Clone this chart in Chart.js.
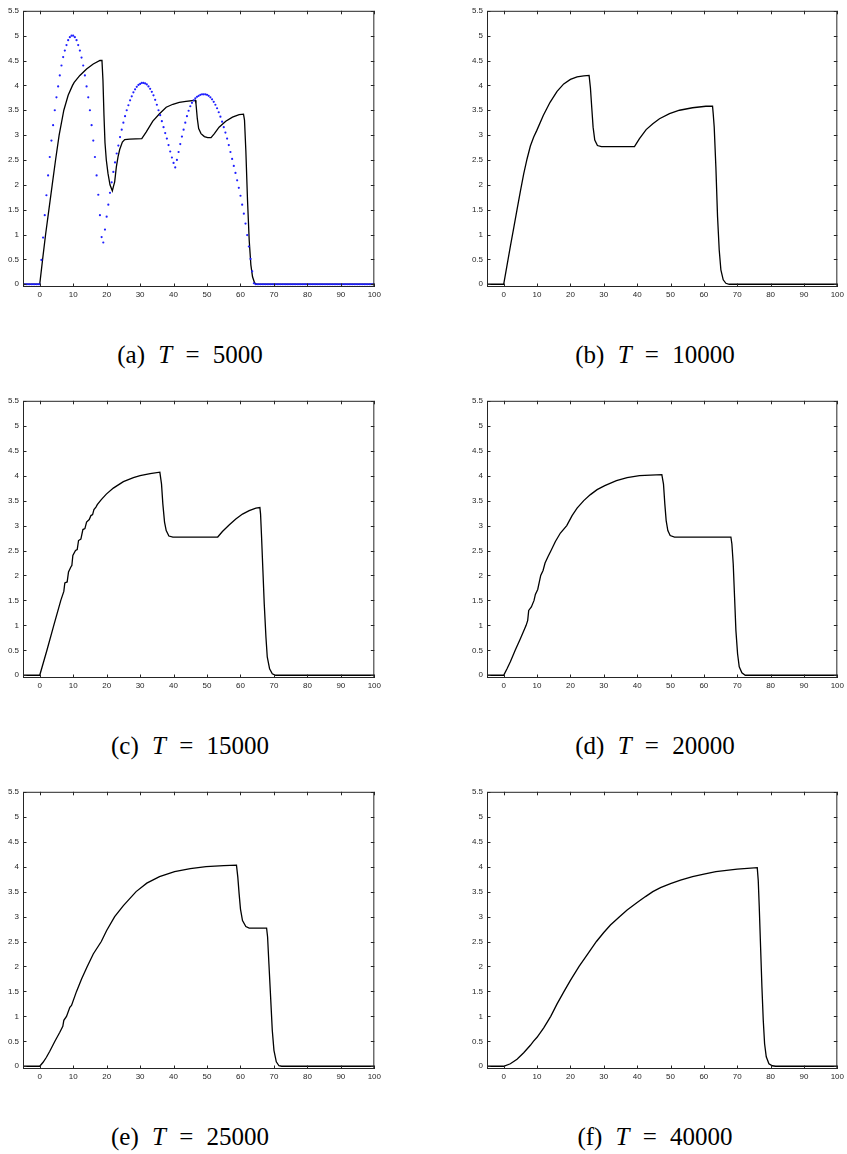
<!DOCTYPE html>
<html>
<head>
<meta charset="utf-8">
<script src="https://cdn.jsdelivr.net/npm/chart.js@4.4.1/dist/chart.umd.min.js"></script>
<style>
  html, body { margin: 0; padding: 0; background: #fff; overflow: hidden; }
  #page { position: relative; width: 847px; height: 1154px; }
  canvas { position: absolute; }
  .cap {
    position: absolute; width: 300px; text-align: center;
    font-family: 'Liberation Serif', serif; font-size: 25px; line-height: 24px;
    color: #000; white-space: pre; word-spacing: 7px;
  }
</style>
</head>
<body>
<div id="page"></div>
<script>
// axis ticks
const xTicks = [0, 10, 20, 30, 40, 50, 60, 70, 80, 90, 100];
const yTicks = [0, 0.5, 1, 1.5, 2, 2.5, 3, 3.5, 4, 4.5, 5, 5.5];

const captions = ['(a)|T|5000', '(b)|T|10000', '(c)|T|15000', '(d)|T|20000', '(e)|T|25000', '(f)|T|40000'];

// (a) T = 5000
const aX = [-5, 0, 0.86, 1.75, 2.74, 3.73, 4.73, 5.8, 7.2, 8.5, 9.8, 10.3, 12, 14, 16, 18, 18.6, 18.9, 19.2, 19.5,
  19.9, 20.4, 21.0, 21.7, 22.0, 22.4, 22.9, 23.4, 23.9, 24.7, 25.4, 26.9, 30.5, 31.8, 33.8, 35.8, 37.8, 39.8, 41.7, 43.7,
  46.5, 46.7, 47.1, 47.5, 48.2, 49.2, 50.2, 51.2, 52.2, 53.6, 55.6, 57.6, 59.6, 60.9, 61.2, 61.6, 62.1, 62.6, 63.1, 63.6,
  64.2, 64.8, 100];
const aY = [0, 0, 0.5, 1.0, 1.5, 2.0, 2.5, 3.0, 3.5, 3.8, 4.0, 4.06, 4.2, 4.33, 4.43, 4.5, 4.5, 4.1, 3.4, 2.85,
  2.5, 2.23, 2.0, 1.88, 1.96, 2.06, 2.36, 2.56, 2.71, 2.86, 2.91, 2.92, 2.93, 3.06, 3.28, 3.43, 3.56, 3.62, 3.66, 3.68,
  3.70, 3.63, 3.33, 3.13, 3.03, 2.97, 2.95, 2.95, 3.03, 3.16, 3.28, 3.36, 3.41, 3.42, 3.3, 2.69, 1.69, 0.89, 0.39, 0.15,
  0.03, 0, 0];

// (a) initial profile, blue dots every 0.5 from -5
const dotStart = -5, dotStep = 0.5;
const dotY = [
  0, 0, 0, 0, 0, 0, 0, 0, 0, 0,
  0, 0.49, 0.94, 1.39, 1.79, 2.19, 2.56, 2.89, 3.2, 3.5,
  3.76, 3.98, 4.2, 4.4, 4.57, 4.7, 4.81, 4.91, 4.97, 5.0,
  5.0, 4.97, 4.91, 4.81, 4.7, 4.56, 4.4, 4.2, 3.98, 3.76,
  3.5, 3.2, 2.89, 2.56, 2.19, 1.8, 1.39, 0.95, 0.84, 1.1,
  1.36, 1.6, 1.84, 2.05, 2.26, 2.45, 2.63, 2.79, 2.96, 3.11,
  3.25, 3.38, 3.5, 3.6, 3.7, 3.78, 3.86, 3.92, 3.97, 4.01,
  4.03, 4.05, 4.05, 4.04, 4.02, 3.98, 3.93, 3.87, 3.8, 3.71,
  3.61, 3.5, 3.4, 3.28, 3.16, 3.04, 2.93, 2.8, 2.67, 2.55,
  2.44, 2.35, 2.5, 2.66, 2.82, 2.97, 3.11, 3.25, 3.38, 3.49,
  3.58, 3.65, 3.7, 3.74, 3.77, 3.79, 3.81, 3.82, 3.82, 3.82,
  3.81, 3.79, 3.76, 3.72, 3.67, 3.61, 3.54, 3.46, 3.37, 3.27,
  3.16, 3.05, 2.93, 2.8, 2.66, 2.52, 2.38, 2.24, 2.09, 1.94,
  1.78, 1.6, 1.42, 1.22, 0.99, 0.76, 0.51, 0.26, 0.02, 0,
  0, 0, 0, 0, 0, 0, 0, 0, 0, 0,
  0, 0, 0, 0, 0, 0, 0, 0, 0, 0,
  0, 0, 0, 0, 0, 0, 0, 0, 0, 0,
  0, 0, 0, 0, 0, 0, 0, 0, 0, 0,
  0, 0, 0, 0, 0, 0, 0, 0, 0, 0,
  0, 0, 0, 0, 0, 0, 0, 0, 0, 0,
  0, 0, 0, 0, 0, 0, 0, 0, 0, 0,
  0
];

// (b) T = 10000
const bX = [-5, 0, 1, 2, 3, 4, 5, 6, 7, 8, 9, 9.9, 11.9, 13.9, 16, 18, 20, 22, 24, 25.6,
  26.0, 26.4, 26.8, 27.3, 28.1, 29.3, 39.2, 40.7, 42.7, 44.7, 46.7, 49.7, 52.7, 56.6, 60.6, 62.6, 62.8, 63.1, 63.6, 64.1,
  64.6, 65.1, 65.8, 66.6, 67.6, 100];
const bY = [0, 0, 0.38, 0.76, 1.13, 1.5, 1.87, 2.22, 2.52, 2.78, 2.96, 3.09, 3.4, 3.66, 3.88, 4.03, 4.12, 4.17, 4.19, 4.2,
  3.95, 3.55, 3.16, 2.9, 2.79, 2.77, 2.77, 2.93, 3.11, 3.23, 3.33, 3.43, 3.5, 3.55, 3.58, 3.58, 3.43, 3.16, 2.36, 1.36,
  0.69, 0.29, 0.09, 0.02, 0, 0];

// (c) T = 15000
const cX = [-5, 0, 2.15, 4.2, 6.3, 7.2, 7.5, 8.2, 8.6, 9.3, 9.6, 9.9, 10.7, 11.2, 11.6, 12.3, 12.9, 13.5, 14.0, 14.8,
  15.3, 15.8, 16.2, 16.8, 17.2, 18.4, 19.9, 22, 25, 28, 30, 33, 35.9, 36.4, 36.8, 37.3, 37.8, 38.6, 39.8, 53.2,
  54.6, 56.6, 58.6, 60.6, 62.6, 64.6, 65.8, 66.0, 66.3, 66.7, 67.1, 67.6, 68.0, 68.7, 69.5, 70.5, 100];
const cY = [0, 0, 0.5, 1.0, 1.5, 1.68, 1.85, 1.87, 2.07, 2.17, 2.2, 2.4, 2.5, 2.52, 2.7, 2.73, 2.92, 2.94, 3.07, 3.12,
  3.2, 3.22, 3.32, 3.37, 3.42, 3.52, 3.63, 3.75, 3.88, 3.96, 4.0, 4.04, 4.07, 3.83, 3.43, 3.07, 2.9, 2.79, 2.77, 2.77,
  2.88, 3.01, 3.13, 3.23, 3.3, 3.35, 3.36, 3.23, 2.77, 2.1, 1.43, 0.77, 0.37, 0.13, 0.03, 0, 0];

// (d) T = 20000
const dX = [-5, 0, 1, 2, 3.45, 5, 6.73, 7.2, 7.5, 8.3, 9.1, 9.5, 10.2, 11.1, 11.8, 12.4, 13.3, 14.2, 15.5, 17,
  18.9, 20.5, 22, 24, 26, 28, 30.3, 33.8, 37, 40.7, 44, 47.4, 47.9, 48.3, 48.7, 49.2, 49.9, 51.2, 68.1, 68.4,
  68.8, 69.2, 69.6, 70.1, 70.6, 71.4, 72.4, 100];
const dY = [0, 0, 0.13, 0.27, 0.5, 0.73, 1.0, 1.1, 1.3, 1.37, 1.5, 1.62, 1.72, 2.0, 2.1, 2.25, 2.38, 2.5, 2.68, 2.85,
  3.0, 3.2, 3.35, 3.5, 3.62, 3.72, 3.8, 3.9, 3.96, 4.0, 4.01, 4.02, 3.83, 3.43, 3.1, 2.9, 2.8, 2.77, 2.77, 2.63,
  2.23, 1.57, 0.9, 0.43, 0.17, 0.05, 0, 0];

// (e) T = 25000
const eX = [-5, 0, 1, 2, 3, 4.53, 6, 6.9, 7.2, 8, 9, 9.5, 11, 12.5, 14.2, 16, 18.4, 20, 22.4, 25,
  28.8, 32, 35.8, 40.3, 45, 49.7, 55, 58.8, 59.2, 59.6, 60.0, 60.6, 61.6, 62.6, 67.8, 68.1, 68.5, 69.0, 69.5, 70.0,
  70.7, 71.5, 72.3, 100];
const eY = [0, 0, 0.08, 0.18, 0.3, 0.5, 0.68, 0.8, 0.92, 1.0, 1.18, 1.22, 1.5, 1.75, 2.0, 2.25, 2.5, 2.72, 3.0, 3.22,
  3.5, 3.67, 3.8, 3.9, 3.96, 4.0, 4.02, 4.03, 3.79, 3.45, 3.15, 2.92, 2.8, 2.77, 2.77, 2.59, 2.05, 1.39, 0.72, 0.32,
  0.09, 0.01, 0, 0];

// (f) T = 40000
const fX = [-5, 0, 2, 4, 6, 8, 8.9, 10, 12, 14.1, 16, 18.1, 20, 22.6, 25, 27.8, 30, 32, 34.8, 37,
  40, 42.5, 44.7, 47, 50, 53, 56.6, 60, 63.6, 70, 76.0, 76.3, 76.6, 77.0, 77.4, 77.8, 78.2, 78.7, 79.5, 80.5,
  81.5, 100];
const fY = [0, 0, 0.05, 0.14, 0.27, 0.42, 0.5, 0.58, 0.77, 1.0, 1.25, 1.5, 1.72, 2.0, 2.23, 2.5, 2.68, 2.83, 3.0, 3.13,
  3.28, 3.4, 3.5, 3.58, 3.66, 3.73, 3.8, 3.85, 3.9, 3.95, 3.98, 3.72, 3.19, 2.39, 1.59, 0.92, 0.45, 0.19, 0.05, 0.01,
  0, 0];

const Y_MIN = -0.055;
const Y_W = 22, X_H = 20, PAD_T = 8, PAD_R = 8;
const AXIS_C = '#262626';

// plot boxes on the page (left, top, right, bottom of the axes)
const panels = [
  { x: aX, y: aY, dots: true, L: 23, T: 10, R: 376, B: 287, cx: 190, base: 363 },
  { x: bX, y: bY, L: 487, T: 10, R: 839, B: 287, cx: 655, base: 363 },
  { x: cX, y: cY, L: 23, T: 400, R: 376, B: 678, cx: 190, base: 754 },
  { x: dX, y: dY, L: 487, T: 400, R: 839, B: 678, cx: 655, base: 754 },
  { x: eX, y: eY, L: 23, T: 791, R: 376, B: 1069, cx: 190, base: 1145 },
  { x: fX, y: fY, L: 487, T: 791, R: 839, B: 1069, cx: 655, base: 1145 }
];

// box with inward tick marks on all four sides
const frame = {
  id: 'frame',
  afterDraw(chart) {
    const { ctx, chartArea: a, scales: { x, y } } = chart;
    ctx.save();
    ctx.strokeStyle = AXIS_C;
    ctx.lineWidth = 1;
    ctx.strokeRect(a.left + 0.5, a.top + 0.5, a.width - 1, a.height - 1);
    ctx.beginPath();
    x.ticks.forEach(t => {
      const px = Math.round(x.getPixelForValue(t.value)) + 0.5;
      ctx.moveTo(px, a.bottom); ctx.lineTo(px, a.bottom - 3.5);
      ctx.moveTo(px, a.top); ctx.lineTo(px, a.top + 3.5);
    });
    y.ticks.forEach(t => {
      const py = Math.round(y.getPixelForValue(t.value)) + 0.5;
      ctx.moveTo(a.left, py); ctx.lineTo(a.left + 3.5, py);
      ctx.moveTo(a.right, py); ctx.lineTo(a.right - 3.5, py);
    });
    ctx.stroke();
    ctx.restore();
  }
};

const page = document.getElementById('page');
const tickFont = { family: "'Liberation Sans', Arial, sans-serif", size: 8 };

panels.forEach((p, i) => {
  const w = (p.R - p.L) + Y_W + PAD_R;
  const h = (p.B - p.T) + PAD_T + X_H;
  const canvas = document.createElement('canvas');
  canvas.width = w; canvas.height = h;
  canvas.style.width = w + 'px'; canvas.style.height = h + 'px';
  canvas.style.left = (p.L - Y_W) + 'px';
  canvas.style.top = (p.T - PAD_T) + 'px';
  page.appendChild(canvas);

  const datasets = [{
    data: p.x.map((v, k) => ({ x: v, y: p.y[k] })),
    showLine: true, borderColor: '#000', borderWidth: 1.3,
    pointRadius: 0, fill: false, tension: 0, order: 2
  }];
  if (p.dots) {
    datasets.push({
      data: dotY.map((v, k) => ({ x: dotStart + k * dotStep, y: v })),
      showLine: false, pointRadius: 1.1, pointBackgroundColor: '#1f1fff',
      pointBorderWidth: 0, order: 1
    });
  }

  new Chart(canvas, {
    type: 'scatter',
    data: { datasets },
    options: {
      responsive: false,
      animation: false,
      events: [],
      layout: { padding: { top: PAD_T, right: PAD_R, left: 0, bottom: 0 } },
      plugins: { legend: { display: false }, tooltip: { enabled: false } },
      scales: {
        x: {
          type: 'linear', min: -5, max: 100,
          grid: { display: false, drawTicks: false },
          border: { display: false },
          afterBuildTicks: s => { s.ticks = xTicks.map(v => ({ value: v })); },
          afterFit: s => { s.height = X_H; },
          ticks: { autoSkip: false, maxRotation: 0, padding: 3, color: AXIS_C, font: tickFont, callback: v => String(v) }
        },
        y: {
          type: 'linear', min: Y_MIN, max: 5.5,
          grid: { display: false, drawTicks: false },
          border: { display: false },
          afterBuildTicks: s => { s.ticks = yTicks.map(v => ({ value: v })); },
          afterFit: s => { s.width = Y_W; },
          ticks: { autoSkip: false, padding: 4, color: AXIS_C, font: tickFont, callback: v => String(v) }
        }
      }
    },
    plugins: [frame]
  });

  // caption under each panel
  const parts = captions[i].split('|');
  const cap = document.createElement('div');
  cap.className = 'cap';
  cap.style.left = (p.cx - 150) + 'px';
  cap.style.top = (p.base - 20) + 'px';
  cap.innerHTML = parts[0] + ' <i>' + parts[1] + '</i> = ' + parts[2];
  page.appendChild(cap);
});
</script>
</body>
</html>
